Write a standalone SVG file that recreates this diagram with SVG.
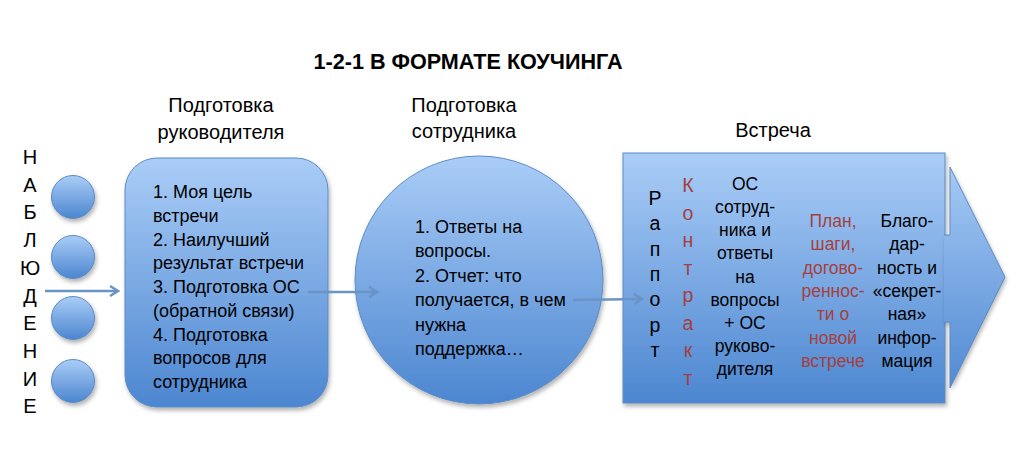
<svg xmlns="http://www.w3.org/2000/svg" width="1024" height="450" viewBox="0 0 1024 450">
<defs>
<linearGradient id="g" x1="0" y1="0" x2="0" y2="1">
<stop offset="0" stop-color="#aacdf7"/>
<stop offset="1" stop-color="#4c86d0"/>
</linearGradient>
<linearGradient id="ga" gradientUnits="userSpaceOnUse" x1="0" y1="153" x2="0" y2="403">
<stop offset="0" stop-color="#aacdf7"/>
<stop offset="1" stop-color="#4c86d0"/>
</linearGradient>
<filter id="sh" x="-10%" y="-10%" width="130%" height="130%">
<feDropShadow dx="1.5" dy="3" stdDeviation="2" flood-color="#000" flood-opacity="0.3"/>
</filter>
<marker id="ah" viewBox="0 0 12 12" refX="10" refY="6" markerWidth="12" markerHeight="12" markerUnits="userSpaceOnUse" orient="auto">
<path d="M2,1 L10,6 L2,11" fill="none" stroke="#6a93c6" stroke-width="2.4"/>
</marker>
<style>
text{font-family:"Liberation Sans",Arial,sans-serif;fill:#000}
.t{font-size:18px}
.m{font-size:17.5px}
.v{font-size:19.5px}
.h{font-size:20px}
.c{text-anchor:middle}
.r{fill:#a5403d}
.shape{fill:url(#g);stroke:#5b8bc6;stroke-width:1;filter:url(#sh)}
.conn{stroke:#6a93c6;stroke-width:2.5;fill:none;marker-end:url(#ah)}
</style>
</defs>
<rect width="1024" height="450" fill="#fff"/>

<g id="title">
<text x="468" y="69" class="c" font-size="22" font-weight="bold" textLength="309" lengthAdjust="spacingAndGlyphs">1-2-1 В ФОРМАТЕ КОУЧИНГА</text>
</g>

<g id="header-manager">
<text x="221" y="112" class="h c">Подготовка</text>
<text x="221" y="139" class="h c">руководителя</text>
</g>
<g id="header-employee">
<text x="464" y="112" class="h c">Подготовка</text>
<text x="464" y="138" class="h c">сотрудника</text>
</g>
<g id="header-meeting">
<text x="773" y="137" class="h c">Встреча</text>
</g>

<g id="observation">
<text x="30" y="164" class="h c">Н</text>
<text x="30" y="191.7" class="h c">А</text>
<text x="30" y="219.4" class="h c">Б</text>
<text x="30" y="247.1" class="h c">Л</text>
<text x="30" y="274.8" class="h c">Ю</text>
<text x="30" y="302.5" class="h c">Д</text>
<text x="30" y="330.2" class="h c">Е</text>
<text x="30" y="357.9" class="h c">Н</text>
<text x="30" y="385.6" class="h c">И</text>
<text x="30" y="413.3" class="h c">Е</text>
</g>

<g id="dots">
<circle cx="73" cy="197" r="21.5" class="shape"/>
<circle cx="73" cy="257" r="21.5" class="shape"/>
<circle cx="73" cy="318" r="21.5" class="shape"/>
<circle cx="73" cy="381" r="21.5" class="shape"/>
</g>

<g id="manager-prep">
<rect x="125" y="158" width="203" height="249" rx="32" ry="32" class="shape"/>
<text class="t" x="153" y="198">1. Моя цель</text>
<text class="t" x="153" y="221.75">встречи</text>
<text class="t" x="153" y="245.5">2. Наилучший</text>
<text class="t" x="153" y="269.25">результат встречи</text>
<text class="t" x="153" y="293">3. Подготовка ОС</text>
<text class="t" x="153" y="316.75">(обратной связи)</text>
<text class="t" x="153" y="340.5">4. Подготовка</text>
<text class="t" x="153" y="364.25">вопросов для</text>
<text class="t" x="153" y="388">сотрудника</text>
</g>

<g id="employee-prep">
<circle cx="479" cy="280" r="124" class="shape"/>
<text class="t" x="415" y="233">1. Ответы на</text>
<text class="t" x="415" y="257.4">вопросы.</text>
<text class="t" x="415" y="281.8">2. Отчет: что</text>
<text class="t" x="415" y="306.2">получается, в чем</text>
<text class="t" x="415" y="330.6">нужна</text>
<text class="t" x="415" y="355">поддержка…</text>
</g>

<g id="meeting">
<rect x="623" y="153" width="322" height="250" fill="url(#ga)" stroke="#5b8bc6" stroke-width="1" filter="url(#sh)"/>
<polygon points="944,235 950,235 950,167 1005,277 950,388 950,322 944,322" fill="url(#ga)" filter="url(#sh)"/>
<polyline points="944,235 950,235 950,167 1005,277 950,388 950,322 944,322" fill="none" stroke="#5b8bc6" stroke-width="1"/>
<g>
<text class="v c" x="655" y="205">Р</text>
<text class="v c" x="655" y="230.3">а</text>
<text class="v c" x="655" y="255.6">п</text>
<text class="v c" x="655" y="281">п</text>
<text class="v c" x="655" y="306.3">о</text>
<text class="v c" x="655" y="331.6">р</text>
<text class="v c" x="655" y="357">т</text>
</g>
<g>
<text class="v c r" x="688" y="192">К</text>
<text class="v c r" x="688" y="219.6">о</text>
<text class="v c r" x="688" y="247.1">н</text>
<text class="v c r" x="688" y="274.7">т</text>
<text class="v c r" x="688" y="302.3">р</text>
<text class="v c r" x="688" y="329.9">а</text>
<text class="v c r" x="688" y="357.4">к</text>
<text class="v c r" x="688" y="385">т</text>
</g>
<g>
<text class="m c" x="745" y="190">ОС</text>
<text class="m c" x="745" y="213.1">сотруд-</text>
<text class="m c" x="745" y="236.2">ника и</text>
<text class="m c" x="745" y="259.4">ответы</text>
<text class="m c" x="745" y="282.5">на</text>
<text class="m c" x="745" y="305.6">вопросы</text>
<text class="m c" x="745" y="328.8">+ ОС</text>
<text class="m c" x="745" y="351.9">руково-</text>
<text class="m c" x="745" y="375">дителя</text>
</g>
<g>
<text class="m c r" x="833" y="227">План,</text>
<text class="m c r" x="833" y="250.3">шаги,</text>
<text class="m c r" x="833" y="273.7">догово-</text>
<text class="m c r" x="833" y="297">реннос-</text>
<text class="m c r" x="833" y="320.3">ти о</text>
<text class="m c r" x="833" y="343.7">новой</text>
<text class="m c r" x="833" y="367">встрече</text>
</g>
<g>
<text class="m c" x="907" y="227">Благо-</text>
<text class="m c" x="907" y="250.3">дар-</text>
<text class="m c" x="907" y="273.7">ность и</text>
<text class="m c" x="907" y="297">«секрет-</text>
<text class="m c" x="907" y="320.3">ная»</text>
<text class="m c" x="907" y="343.7">инфор-</text>
<text class="m c" x="907" y="367">мация</text>
</g>
</g>

<g id="connectors">
<line x1="45" y1="291" x2="118" y2="291" class="conn"/>
<line x1="308" y1="292" x2="377" y2="292" class="conn"/>
<line x1="573" y1="300" x2="642" y2="299" class="conn"/>
</g>
</svg>
